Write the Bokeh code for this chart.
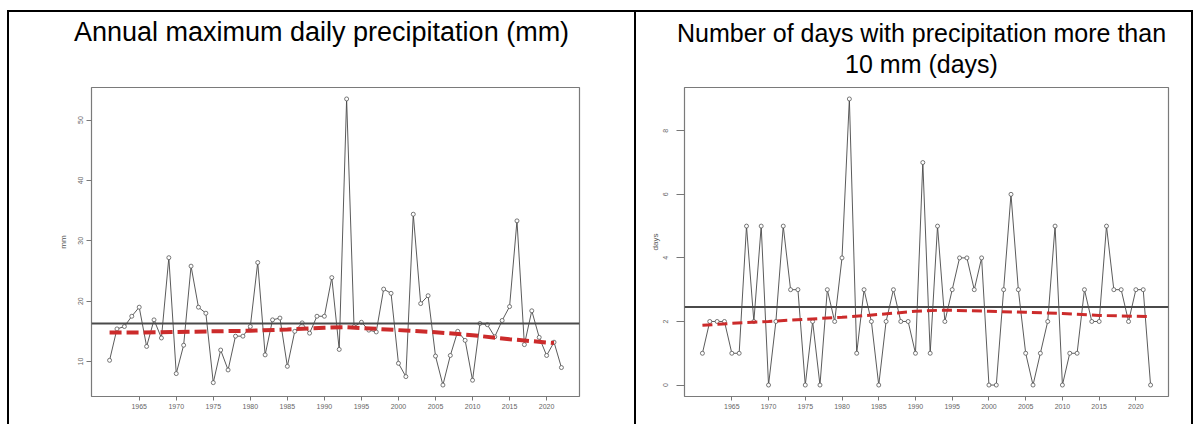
import numpy as np
from bokeh.plotting import figure
from bokeh.models import Range1d, FixedTicker, Span, Title, Div, Spacer
from bokeh.layouts import row, column
from bokeh.embed import file_html
from bokeh.resources import INLINE

# ---------------- data ----------------
years = list(range(1961, 2023))

max_daily_mm = [10.2, 15.4, 15.8, 17.5, 19.0, 12.5, 16.9, 13.9, 27.2, 8.0,
                12.7, 25.8, 19.0, 18.0, 6.5, 11.9, 8.6, 14.2, 14.2, 15.8,
                26.4, 11.1, 16.9, 17.2, 9.2, 15.0, 16.4, 14.7, 17.5, 17.5,
                23.9, 12.0, 53.5, 15.8, 16.5, 15.2, 14.9, 22.0, 21.3, 9.7,
                7.5, 34.4, 19.6, 20.9, 10.9, 6.1, 11.0, 15.0, 13.5, 6.9,
                16.3, 16.1, 14.1, 16.8, 19.1, 33.3, 12.8, 18.4, 14.0, 11.0,
                13.2, 9.0]

trend_years_mm = [1961, 1965, 1970, 1975, 1980, 1985, 1990, 1993, 1995,
                  2000, 2005, 2010, 2015, 2021]
trend_mm = [14.8, 14.8, 14.9, 15.0, 15.1, 15.3, 15.6, 15.7, 15.55,
            15.2, 14.85, 14.35, 13.7, 13.05]

days_over_10mm = [1, 2, 2, 2, 1, 1, 5, 2, 5, 0,
                  2, 5, 3, 3, 0, 2, 0, 3, 2, 4,
                  9, 1, 3, 2, 0, 2, 3, 2, 2, 1,
                  7, 1, 5, 2, 3, 4, 4, 3, 4, 0,
                  0, 3, 6, 3, 1, 0, 1, 2, 5, 0,
                  1, 1, 3, 2, 2, 5, 3, 3, 2, 3,
                  3, 0]

trend_years_days = [1961, 1965, 1970, 1975, 1980, 1985, 1990, 1993, 1995,
                    2000, 2005, 2010, 2015, 2022]
trend_days = [1.88, 1.94, 2.00, 2.07, 2.13, 2.22, 2.32, 2.35, 2.35,
              2.32, 2.29, 2.25, 2.19, 2.15]

x_ticks = [1965, 1970, 1975, 1980, 1985, 1990, 1995, 2000, 2005, 2010, 2015, 2020]
y_ticks_mm = [10, 20, 30, 40, 50]
y_ticks_days = [0, 2, 4, 6, 8]

title_mm = "Annual maximum daily precipitation (mm)"
title_days_1 = "Number of days with precipitation more than"
title_days_2 = "10 mm (days)"
ylabel_mm = "mm"
ylabel_days = "days"

FONT = "Liberation Sans"
CELL_H = 412
ROW_TOP = 12            # page y where the cells start
LINE_H = 1.117          # ascent+descent of Liberation Sans, in em
EM_W = {title_mm: 18.337, title_days_1: 19.563, title_days_2: 6.112}  # Arial-metric widths


def r_range(vals):
    lo, hi = min(vals), max(vals)
    pad = 0.04 * (hi - lo)
    return lo - pad, hi + pad


def make_panel(width, frame, yvals, yticks, ylab, tx, ty, red_w, dash,
               ytick_out, ylab_standoff, yaxis_label_standoff):
    fl, ft, fr, fb = frame
    xr = r_range(years)
    yr = r_range(yvals)
    p = figure(width=width, height=CELL_H,
               x_range=Range1d(*xr), y_range=Range1d(*yr),
               output_backend="svg", toolbar_location=None,
               min_border_left=fl, min_border_right=width - fr,
               min_border_top=ft, min_border_bottom=CELL_H - fb,
               background_fill_color="white", border_fill_color="white",
               outline_line_color="#7a7a7a", outline_line_width=1.2)
    p.grid.visible = False

    xa = p.xaxis[0]
    ya = p.yaxis[0]
    xa.ticker = FixedTicker(ticks=x_ticks)
    ya.ticker = FixedTicker(ticks=yticks)
    for ax in (xa, ya):
        ax.axis_line_color = None
        ax.major_tick_line_color = "#777777"
        ax.major_tick_in = 0
        ax.minor_tick_line_color = None
        ax.major_label_text_font = FONT
        ax.major_label_text_font_size = "7px"
        ax.major_label_text_color = "#666666"
    xa.major_tick_out = 4
    xa.major_label_standoff = 3
    ya.major_tick_out = ytick_out
    ya.major_label_standoff = ylab_standoff
    ya.major_label_orientation = "vertical"
    ya.axis_label = ylab
    ya.axis_label_text_font = FONT
    ya.axis_label_text_font_size = "8px"
    ya.axis_label_text_font_style = "normal"
    ya.axis_label_text_color = "#555555"
    ya.axis_label_standoff = yaxis_label_standoff

    p.line(years, yvals, line_color="#484848", line_width=0.9)
    p.scatter(years, yvals, marker="circle", size=4, fill_color="white",
              line_color="#555555", line_width=0.8)
    p.add_layout(Span(location=float(np.mean(yvals)), dimension="width",
                      line_color="#4a4a4a", line_width=2))
    p.line(tx, ty, line_color="#cc2b2b", line_width=red_w, line_dash=dash)
    return p


def set_titles(p, size, frame_left_page, frame_top, lines):
    """lines: list of (text, page_center_x, page_center_y), top line first.
    Titles are stacked in the 'above' panel; a blank spacer title fills the
    rest so that the stack exactly fills the top border."""
    h = LINE_H * size
    panel_top = 0.0
    specs = []
    for text, cx, cy in lines:
        cyc = cy - ROW_TOP                       # canvas y of text centre
        s = 2 * (cyc + h / 2 - panel_top - 2 - h)
        w = EM_W[text] * size
        off = (cx - w / 2) - frame_left_page
        specs.append((text, s, off))
        panel_top += 2 + h + s
    rest = frame_top - panel_top
    sp_size = 6
    sp_s = rest - 2 - LINE_H * sp_size
    spacer = Title(text=" ", text_font=FONT, text_font_size=f"{sp_size}px",
                   standoff=sp_s)
    p.add_layout(spacer, "above")
    made = []
    for i, (text, s, off) in enumerate(specs):
        if i == 0:
            t = p.title
            t.text = text
        else:
            t = Title(text=text)
        t.text_font = FONT
        t.text_font_size = f"{size}px"
        t.text_font_style = "normal"
        t.text_color = "black"
        t.align = "left"
        t.vertical_align = "bottom"
        t.offset = off
        t.standoff = s
        made.append(t)
    for t in reversed(made[1:]):
        p.add_layout(t, "above")


# page: left cell x 9..634, right cell x 636..1191, cells start at y 12
P1_LEFT, P1_FRAME = 9, (82, 72, 570, 385)
P2_LEFT, P2_FRAME = 636, (48, 75, 532, 384)

p1 = make_panel(625, P1_FRAME, max_daily_mm, y_ticks_mm, ylabel_mm,
                trend_years_mm, trend_mm, 4, "12 5", 5, 3, 8)
set_titles(p1, 27, P1_LEFT + P1_FRAME[0], P1_FRAME[1], [(title_mm, 321, 27)])

p2 = make_panel(555, P2_FRAME, days_over_10mm, y_ticks_days, ylabel_days,
                trend_years_days, trend_days, 3, "10 5", 8, 8, 1)
set_titles(p2, 25, P2_LEFT + P2_FRAME[0], P2_FRAME[1],
           [(title_days_1, 921, 32), (title_days_2, 921, 63)])


def vline():
    return Div(text="", width=2, height=CELL_H, margin=0,
               styles={"background-color": "black"})


top_line = Div(text="", width=1186, height=2, margin=0,
               styles={"background-color": "black"})

layout = column(
    Spacer(height=10, margin=0),
    row(Spacer(width=7, margin=0), top_line),
    row(Spacer(width=7, margin=0), vline(), p1, vline(), p2, vline()),
)
open("out.html", "w").write(file_html(layout, INLINE))
